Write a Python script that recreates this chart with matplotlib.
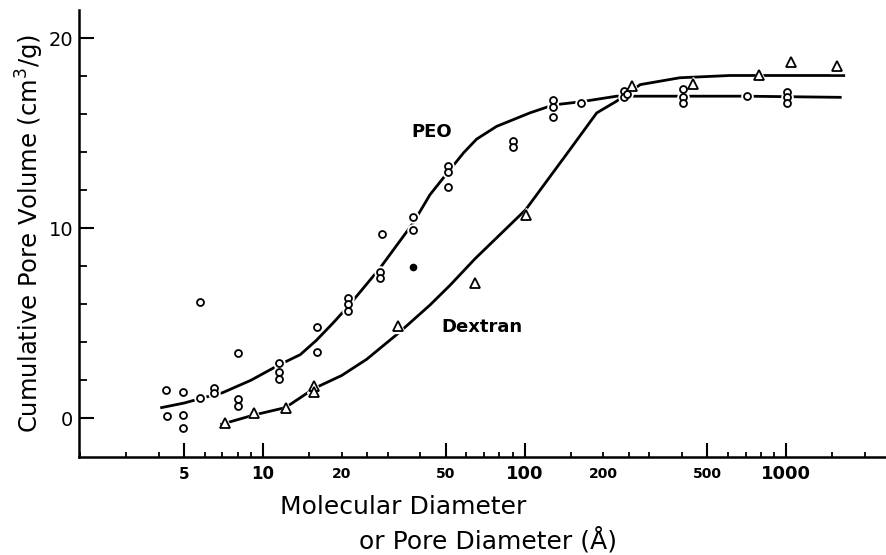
import numpy as np
import matplotlib
matplotlib.use("Agg")
from matplotlib import pyplot as plt
from matplotlib.ticker import FixedLocator, NullFormatter

# PEO data points (molecular diameter in A, cumulative pore volume in cm3/g)
peo_d = [4.25, 4.3, 4.93, 4.93, 4.93, 5.74, 5.74, 6.51, 6.51, 8.05, 8.05, 8.05,
         11.5, 11.5, 11.5, 16.1, 16.1, 21.1, 21.1, 21.1, 28.4, 28.0, 28.0,
         37.6, 37.6, 51.1, 51.1, 51.1, 90.6, 90.6, 129, 129, 129, 165,
         241, 241, 247, 403, 403, 403, 708, 1012, 1012, 1012]
peo_v = [1.5, 0.12, 1.39, 0.16, -0.51, 1.07, 6.14, 1.6, 1.35, 3.41, 1.0, 0.65,
         2.92, 2.45, 2.05, 4.79, 3.5, 6.35, 6.0, 5.65, 9.69, 7.7, 7.4,
         10.59, 9.92, 13.3, 12.95, 12.2, 14.58, 14.3, 16.75, 16.4, 15.85, 16.6,
         17.25, 16.9, 17.05, 17.35, 16.9, 16.6, 16.99, 17.2, 16.9, 16.6]
peo_filled_d = [37.6]
peo_filled_v = [7.98]

# Dextran data points
dex_d = [7.16, 9.27, 12.2, 15.7, 15.7, 32.9, 64.7, 101, 257, 442, 791, 1045, 1563]
dex_v = [-0.25, 0.28, 0.56, 1.7, 1.4, 4.85, 7.1, 10.7, 17.5, 17.6, 18.05, 18.75, 18.57]

# hand drawn curves
peo_curve_d = [4.1, 5.0, 6.0, 7.0, 9.0, 11.5, 13.9, 16.0, 18.5, 21.2, 28.0, 37.6,
               43.5, 48.9, 58.4, 65.6, 78.2, 104.8, 129, 165, 225, 340, 700, 1610]
peo_curve_v = [0.56, 0.8, 1.1, 1.34, 2.0, 2.8, 3.35, 4.1, 5.0, 5.9, 7.9, 10.3,
               11.77, 12.65, 13.97, 14.7, 15.37, 16.08, 16.5, 16.67, 16.96, 16.96,
               16.96, 16.9]
dex_curve_d = [6.95, 9.18, 12.2, 15.7, 20.0, 24.9, 32.9, 43.5, 51.9, 64.7, 101,
               149, 188.8, 225, 277, 392, 609, 1660]
dex_curve_v = [-0.32, 0.16, 0.56, 1.57, 2.25, 3.1, 4.47, 5.96, 7.0, 8.4, 10.98,
               14.14, 16.08, 16.7, 17.57, 17.93, 18.05, 18.05]

major_x = [5, 10, 50, 100, 500, 1000]
minor_x = [2, 3, 4, 6, 7, 8, 9, 15, 20, 25, 30, 40, 60, 70, 80, 90,
           150, 200, 250, 300, 400, 600, 700, 800, 900, 1500, 2000]
xlabels = {5: 11, 10: 12, 20: 10, 50: 10, 100: 13, 200: 10, 500: 10, 1000: 13}

fig = plt.figure(figsize=(8.87, 5.55), dpi=100)
ax = fig.add_axes([0.089, 0.176, 0.911, 0.806])

ax.plot(peo_curve_d, peo_curve_v, color="black", lw=2, zorder=1)
ax.plot(dex_curve_d, dex_curve_v, color="black", lw=2, zorder=1)

# white halo so the line breaks at each point, like the drawing
ax.plot(peo_d, peo_v, "o", ms=8, color="white", zorder=2)
ax.plot(dex_d, dex_v, "^", ms=10, color="white", zorder=2)
ax.plot(peo_d, peo_v, "o", ms=5, mfc="white", mec="black", mew=1.3, zorder=3)
ax.plot(peo_filled_d, peo_filled_v, "o", ms=4.5, color="black", zorder=3)
ax.plot(dex_d, dex_v, "^", ms=6.5, mfc="white", mec="black", mew=1.3, zorder=3)

ax.set_xscale("log")
ax.set_xlim(1.98, 2430)
ax.set_ylim(-2.06, 21.5)

for s in ["top", "right"]:
    ax.spines[s].set_visible(False)
ax.spines["left"].set_linewidth(1.8)
ax.spines["bottom"].set_linewidth(1.8)

ax.xaxis.set_major_locator(FixedLocator(major_x))
ax.xaxis.set_minor_locator(FixedLocator(minor_x))
ax.xaxis.set_major_formatter(NullFormatter())
ax.xaxis.set_minor_formatter(NullFormatter())
ax.tick_params(axis="x", which="major", direction="in", length=10, width=1.5)
ax.tick_params(axis="x", which="minor", direction="in", length=3.5, width=1.3)
for v, fs in xlabels.items():
    ax.text(v, -2.95, str(v), ha="center", va="center", fontsize=fs,
            fontweight="bold")

ax.set_yticks([0, 10, 20])
ax.set_yticks(np.arange(0, 21, 2), minor=True)
ax.tick_params(axis="y", which="major", direction="in", length=11, width=1.5,
               labelsize=14, pad=4)
ax.tick_params(axis="y", which="minor", direction="in", length=6, width=1.3)

ax.set_ylabel("Cumulative Pore Volume (cm$^3$/g)", fontsize=17.5, labelpad=2)

ax.text(44, 15.1, "PEO", fontsize=13, fontweight="bold", ha="center", va="center")
ax.text(69, 4.8, "Dextran", fontsize=13, fontweight="bold", ha="center", va="center")

fig.text(0.455, 0.087, "Molecular Diameter", fontsize=18, ha="center", va="center")
fig.text(0.550, 0.027, "or Pore Diameter (Å)", fontsize=18, ha="center", va="center")

fig.savefig("out.png", dpi=100)
